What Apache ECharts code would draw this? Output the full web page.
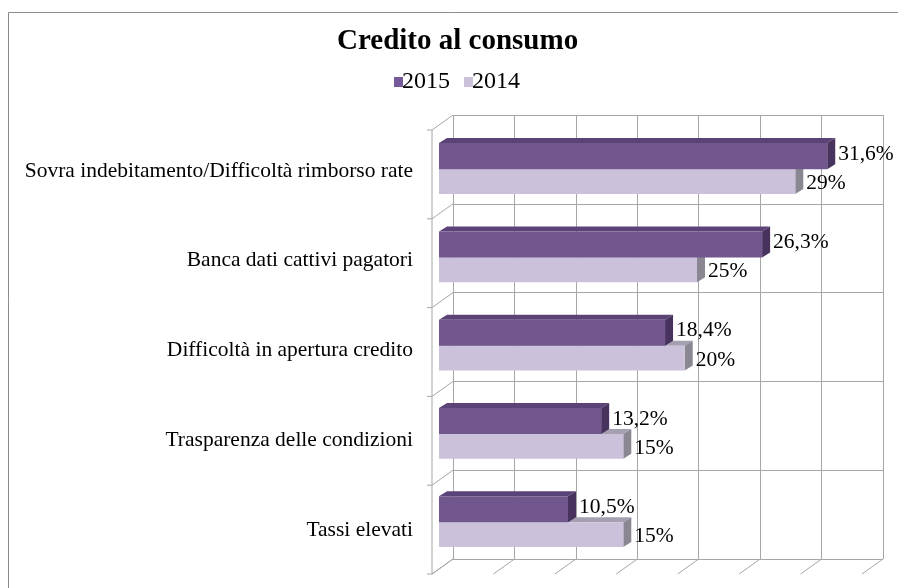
<!DOCTYPE html>
<html><head><meta charset="utf-8">
<script src="https://cdn.jsdelivr.net/npm/echarts@6/dist/echarts.min.js"></script>
<style>html,body{margin:0;padding:0;background:#fff}#c{width:898px;height:588px}</style>
</head><body><div id="c"></div>
<script>
const categories = [
  "Sovra indebitamento/Difficoltà rimborso rate",
  "Banca dati cattivi pagatori",
  "Difficoltà in apertura credito",
  "Trasparenza delle condizioni",
  "Tassi elevati"
];
const values2015 = [31.6, 26.3, 18.4, 13.2, 10.5];
const values2014 = [29, 21, 20, 15, 15];
const labels2015 = ["31,6%", "26,3%", "18,4%", "13,2%", "10,5%"];
const labels2014 = ["29%", "25%", "20%", "15%", "15%"];
const xTicks = [0, 5, 10, 15, 20, 25, 30, 35];
const wallRows = [0, 1, 2, 3, 4, 5];
const seriesNames = ["2015", "2014"];

const FONT = "'Liberation Serif', 'Times New Roman', serif";
const DX = 8, DY = 5;     // bar depth
const WX = 21, WY = 15;   // wall depth
const GRID_LINE = '#a6a6a6';

const palette = {
  dark:  { front: '#72578f', top: '#5b4277', side: '#48335f', legend: '#76599a' },
  light: { front: '#ccc1da', top: '#a59fb2', side: '#8a8793', legend: '#ccc1da' }
};

function barRender(kind, labels) {
  const c = palette[kind];
  return function (params, api) {
    const v = api.value(0), ci = api.value(1);
    const p0 = api.coord([0, ci]);
    const p1 = api.coord([v, ci]);
    const band = api.size([0, 1])[1];
    const h = band * 0.295;
    let yT, yB, lOff;
    if (kind === 'dark') { yT = p0[1] - h; yB = p0[1]; lOff = -2; }
    else { yT = p0[1]; yB = p0[1] + h * 0.95; lOff = 2; }
    const x0 = p0[0], x1 = p1[0];
    return {
      type: 'group',
      children: [
        { type: 'polygon', shape: { points: [[x0, yT], [x0 + DX, yT - DY], [x1 + DX, yT - DY], [x1, yT]] },
          style: { fill: c.top } },
        { type: 'polygon', shape: { points: [[x1, yT], [x1 + DX, yT - DY], [x1 + DX, yB - DY], [x1, yB]] },
          style: { fill: c.side } },
        { type: 'rect', shape: { x: x0, y: yT, width: x1 - x0, height: yB - yT },
          style: { fill: c.front } },
        { type: 'text', z2: 100,
          style: { text: labels[params.dataIndex], x: x1 + DX + 3, y: (yT + yB) / 2 + lOff,
                   verticalAlign: 'middle', align: 'left', fill: '#000',
                   fontFamily: FONT, fontSize: 21.5 } }
      ]
    };
  };
}

function floorRender(params, api) {
  const p = api.coord([api.value(0), 5]);
  return { type: 'line', shape: { x1: p[0], y1: p[1], x2: p[0] - WX, y2: p[1] + WY },
           style: { stroke: GRID_LINE, lineWidth: 1 } };
}
function sideRender(params, api) {
  const k = api.value(0);
  const p = api.coord([0, k]);
  const children = [
    { type: 'line', shape: { x1: p[0], y1: p[1], x2: p[0] - WX, y2: p[1] + WY }, style: { stroke: GRID_LINE, lineWidth: 1 } },
    { type: 'line', shape: { x1: p[0] - WX, y1: p[1] + WY, x2: p[0] - WX - 5, y2: p[1] + WY }, style: { stroke: GRID_LINE, lineWidth: 1 } }
  ];
  if (k === 0) {
    const q = api.coord([0, 5]);
    children.push({ type: 'line', shape: { x1: p[0] - WX, y1: p[1] + WY, x2: q[0] - WX, y2: q[1] + WY },
                    style: { stroke: GRID_LINE, lineWidth: 1 } });
  }
  return { type: 'group', children };
}

const chart = echarts.init(document.getElementById('c'), null, { renderer: 'canvas' });
chart.setOption({
  animation: false,
  backgroundColor: '#fff',
  graphic: [{ type: 'rect', shape: { x: 8.5, y: 12.5, width: 1200, height: 1200 },
              style: { fill: 'none', stroke: '#8c8c8c', lineWidth: 1 }, silent: true, z: -10 }],
  title: {
    text: 'Credito al consumo', left: 332, top: 22,
    textStyle: { fontFamily: FONT, fontWeight: 'bold', fontSize: 29, color: '#000' }
  },
  legend: {
    data: seriesNames, left: 389, top: 65, icon: 'rect', itemWidth: 9, itemHeight: 10, itemGap: 14,
    textStyle: { fontFamily: FONT, fontSize: 24, color: '#000', padding: [0, 0, 0, -6] }
  },
  grid: [
    { left: 453, top: 115, width: 430, height: 444 },     // back wall
    { left: 439, top: 125, width: 430, height: 441.5 },   // bars
    { left: 439, top: 126, width: 430, height: 449 }      // category labels
  ],
  xAxis: [
    { gridIndex: 0, type: 'value', min: 0, max: 35, interval: 5,
      axisLine: { show: false }, axisTick: { show: false }, axisLabel: { show: false },
      splitLine: { show: true, lineStyle: { color: GRID_LINE, width: 1 } } },
    { gridIndex: 1, type: 'value', min: 0, max: 35, interval: 5, show: false },
    { gridIndex: 2, type: 'value', min: 0, max: 35, interval: 5, show: false }
  ],
  yAxis: [
    { gridIndex: 0, type: 'value', min: 0, max: 5, interval: 1, inverse: true,
      axisLine: { show: false }, axisTick: { show: false }, axisLabel: { show: false },
      splitLine: { show: true, lineStyle: { color: GRID_LINE, width: 1 } } },
    { gridIndex: 1, type: 'category', data: categories, inverse: true, show: false },
    { gridIndex: 2, type: 'category', data: categories, inverse: true,
      axisLine: { show: false }, axisTick: { show: false }, splitLine: { show: false },
      axisLabel: { margin: 26, fontFamily: FONT, fontSize: 21.5, color: '#000' } }
  ],
  series: [
    { type: 'custom', name: 'floor', xAxisIndex: 0, yAxisIndex: 0, silent: true, z: 1,
      data: xTicks.map(v => [v]), renderItem: floorRender, encode: { x: 0 } },
    { type: 'custom', name: 'side', xAxisIndex: 0, yAxisIndex: 0, silent: true, z: 1,
      data: wallRows.map(v => [v]), renderItem: sideRender, encode: { y: 0 } },
    { type: 'custom', name: '2014', xAxisIndex: 1, yAxisIndex: 1, z: 3,
      itemStyle: { color: palette.light.legend },
      data: values2014.map((v, i) => [v, i]), encode: { x: 0, y: 1 },
      renderItem: barRender('light', labels2014) },
    { type: 'custom', name: '2015', xAxisIndex: 1, yAxisIndex: 1, z: 4,
      itemStyle: { color: palette.dark.legend },
      data: values2015.map((v, i) => [v, i]), encode: { x: 0, y: 1 },
      renderItem: barRender('dark', labels2015) }
  ]
});
</script></body></html>
